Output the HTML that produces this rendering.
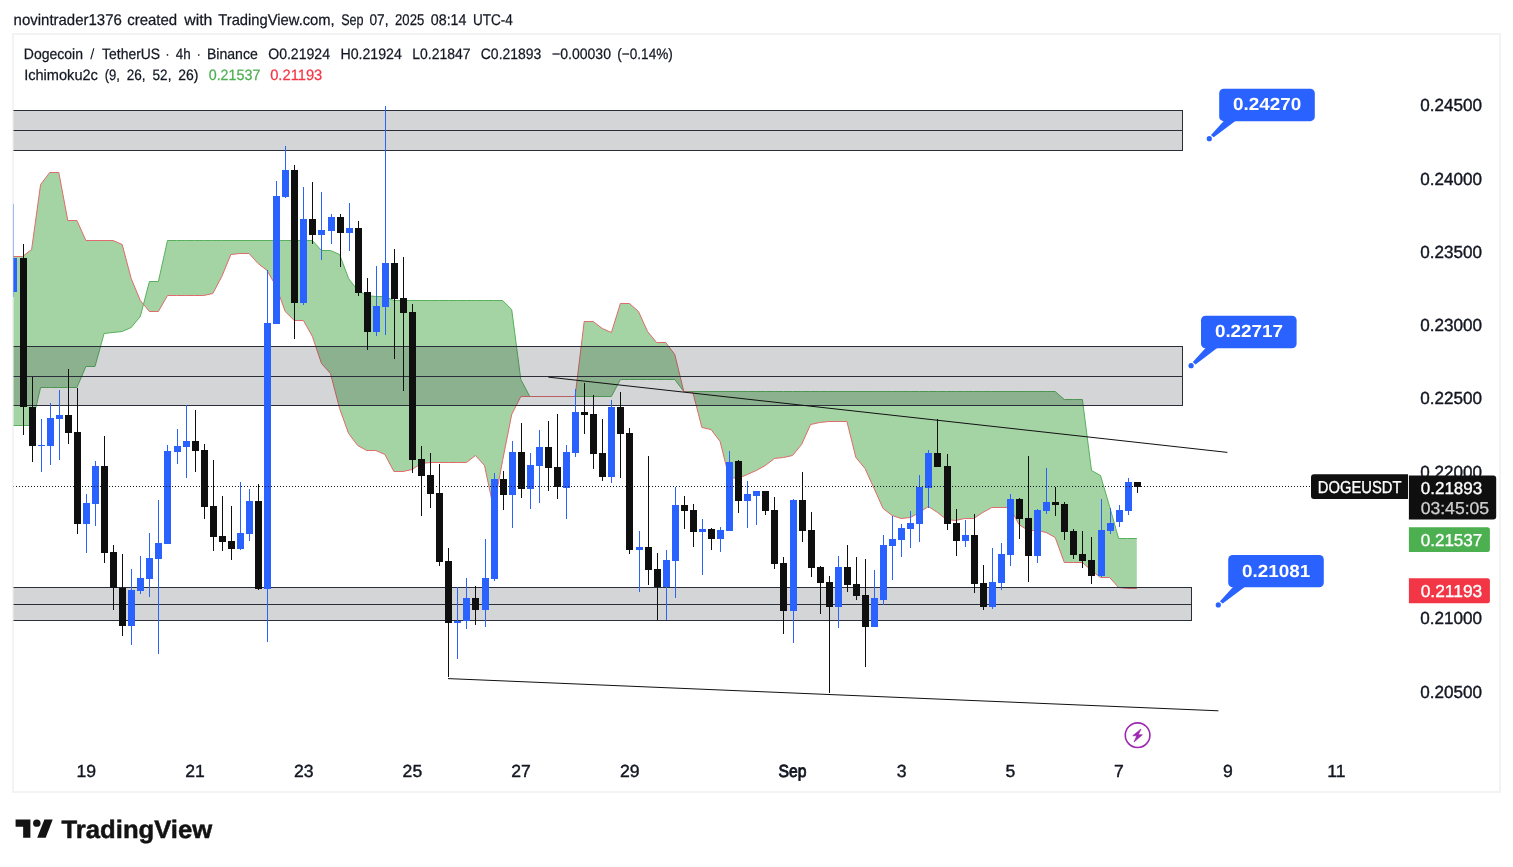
<!DOCTYPE html>
<html lang="en"><head><meta charset="utf-8"><title>DOGEUSDT chart</title>
<style>html,body{margin:0;padding:0;background:#fff;width:1513px;height:867px;overflow:hidden}</style></head>
<body>
<svg width="1513" height="867" viewBox="0 0 1513 867" text-rendering="geometricPrecision" style="position:absolute;left:0;top:0">
<rect x="0" y="0" width="1513" height="867" fill="#ffffff"/>
<defs><clipPath id="cp"><rect x="13.6" y="35" width="1485.4" height="756"/></clipPath></defs>
<rect x="13" y="34" width="1487" height="758" fill="none" stroke="#f3f3f4" stroke-width="2"/>
<g clip-path="url(#cp)">
<path d="M12.5,425.5 L13.5,425.5 L22.5,425.5 L31.6,425.5 L40.6,387.5 L49.7,387.5 L58.8,387.5 L67.8,387.5 L76.9,387.5 L85.9,366.5 L95.0,366.5 L104.1,333.5 L113.1,332.5 L122.2,331.5 L131.2,327.5 L140.3,316.5 L149.4,281.5 L158.4,281.5 L167.5,240.5 L176.5,240.5 L185.6,240.5 L194.6,240.5 L203.7,240.5 L212.8,240.5 L221.8,240.5 L230.9,240.5 L239.9,240.5 L249.0,240.5 L258.1,240.5 L267.1,240.5 L276.2,240.5 L285.2,240.5 L294.3,240.5 L303.4,240.5 L312.4,240.5 L321.5,250.5 L330.5,250.5 L339.6,254.5 L348.6,278.5 L357.7,290.5 L366.8,295.5 L375.8,296.5 L384.9,296.5 L393.9,300.5 L403.0,300.5 L412.1,300.5 L421.1,300.5 L430.2,300.5 L439.2,300.5 L448.3,300.5 L457.4,300.5 L466.4,300.5 L475.5,300.5 L484.5,300.5 L493.6,300.5 L502.6,300.5 L511.7,309.5 L520.8,379.5 L529.8,396.5 L538.9,396.5 L547.9,396.5 L557.0,396.5 L566.1,396.5 L575.1,396.5 L584.2,396.5 L593.2,396.5 L602.3,396.5 L611.4,396.5 L620.4,379.5 L629.5,379.5 L638.5,379.5 L647.6,379.5 L656.6,379.5 L665.7,379.5 L674.8,379.5 L683.8,391.5 L692.9,391.5 L701.9,391.5 L711.0,391.5 L720.1,391.5 L729.1,391.5 L738.2,391.5 L747.2,391.5 L756.3,391.5 L765.4,391.5 L774.4,391.5 L783.5,391.5 L792.5,391.5 L801.6,391.5 L810.6,391.5 L819.7,391.5 L828.8,391.5 L837.8,391.5 L846.9,391.5 L855.9,391.5 L865.0,391.5 L874.1,391.5 L883.1,391.5 L892.2,391.5 L901.2,391.5 L910.3,391.5 L919.4,391.5 L928.4,391.5 L937.5,391.5 L946.5,391.5 L955.6,391.5 L964.6,391.5 L973.7,391.5 L982.8,391.5 L991.8,391.5 L1000.9,391.5 L1009.9,391.5 L1019.0,391.5 L1028.1,391.5 L1037.1,391.5 L1046.2,391.5 L1055.2,391.5 L1064.3,399.5 L1073.4,399.5 L1082.4,399.5 L1091.5,470.5 L1100.5,475.5 L1109.6,506.5 L1118.6,538.5 L1127.7,538.5 L1136.8,538.5 L1136.8,588.5 L1127.7,588.5 L1118.6,587.5 L1109.6,577.5 L1100.5,577.5 L1091.5,570.5 L1082.4,562.5 L1073.4,562.5 L1064.3,562.5 L1055.2,537.5 L1046.2,532.5 L1037.1,530.5 L1028.1,530.5 L1019.0,524.5 L1009.9,507.5 L1000.9,507.5 L991.8,507.5 L982.8,512.5 L973.7,518.5 L964.6,518.5 L955.6,520.5 L946.5,519.5 L937.5,512.5 L928.4,506.5 L919.4,512.5 L910.3,517.5 L901.2,518.5 L892.2,515.5 L883.1,508.5 L874.1,488.5 L865.0,468.5 L855.9,457.5 L846.9,421.5 L837.8,421.5 L828.8,421.5 L819.7,422.5 L810.6,424.5 L801.6,444.5 L792.5,455.5 L783.5,457.5 L774.4,458.5 L765.4,465.5 L756.3,470.5 L747.2,474.5 L738.2,478.5 L729.1,477.5 L720.1,441.5 L711.0,429.5 L701.9,427.5 L692.9,392.5 L683.8,391.5 L674.8,354.5 L665.7,342.5 L656.6,342.5 L647.6,331.5 L638.5,311.5 L629.5,303.5 L620.4,303.5 L611.4,332.5 L602.3,328.5 L593.2,321.5 L584.2,321.5 L575.1,396.5 L566.1,396.5 L557.0,396.5 L547.9,396.5 L538.9,396.5 L529.8,396.5 L520.8,396.5 L511.7,414.5 L502.6,460.5 L493.6,508.5 L484.5,465.5 L475.5,455.5 L466.4,462.5 L457.4,462.5 L448.3,462.5 L439.2,462.5 L430.2,462.5 L421.1,463.5 L412.1,469.5 L403.0,471.5 L393.9,471.5 L384.9,454.5 L375.8,450.5 L366.8,450.5 L357.7,445.5 L348.6,433.5 L339.6,408.5 L330.5,373.5 L321.5,363.5 L312.4,336.5 L303.4,320.5 L294.3,320.5 L285.2,311.5 L276.2,286.5 L267.1,270.5 L258.1,263.5 L249.0,253.5 L239.9,253.5 L230.9,254.5 L221.8,276.5 L212.8,293.5 L203.7,295.5 L194.6,295.5 L185.6,295.5 L176.5,295.5 L167.5,295.5 L158.4,311.5 L149.4,311.5 L140.3,300.5 L131.2,278.5 L122.2,244.5 L113.1,240.5 L104.1,240.5 L95.0,240.5 L85.9,240.5 L76.9,220.5 L67.8,220.5 L58.8,172.5 L49.7,172.5 L40.6,184.5 L31.6,249.5 L22.5,256.5 L13.5,256.5 L12.5,256.5 Z" fill="#a4d3a4" stroke="none"/>
<polyline points="12.5,425.5 13.5,425.5 22.5,425.5 31.6,425.5 40.6,387.5 49.7,387.5 58.8,387.5 67.8,387.5 76.9,387.5 85.9,366.5 95.0,366.5 104.1,333.5 113.1,332.5 122.2,331.5 131.2,327.5 140.3,316.5 149.4,281.5 158.4,281.5 167.5,240.5 176.5,240.5 185.6,240.5 194.6,240.5 203.7,240.5 212.8,240.5 221.8,240.5 230.9,240.5 239.9,240.5 249.0,240.5 258.1,240.5 267.1,240.5 276.2,240.5 285.2,240.5 294.3,240.5 303.4,240.5 312.4,240.5 321.5,250.5 330.5,250.5 339.6,254.5 348.6,278.5 357.7,290.5 366.8,295.5 375.8,296.5 384.9,296.5 393.9,300.5 403.0,300.5 412.1,300.5 421.1,300.5 430.2,300.5 439.2,300.5 448.3,300.5 457.4,300.5 466.4,300.5 475.5,300.5 484.5,300.5 493.6,300.5 502.6,300.5 511.7,309.5 520.8,379.5 529.8,396.5 538.9,396.5 547.9,396.5 557.0,396.5 566.1,396.5 575.1,396.5 584.2,396.5 593.2,396.5 602.3,396.5 611.4,396.5 620.4,379.5 629.5,379.5 638.5,379.5 647.6,379.5 656.6,379.5 665.7,379.5 674.8,379.5 683.8,391.5 692.9,391.5 701.9,391.5 711.0,391.5 720.1,391.5 729.1,391.5 738.2,391.5 747.2,391.5 756.3,391.5 765.4,391.5 774.4,391.5 783.5,391.5 792.5,391.5 801.6,391.5 810.6,391.5 819.7,391.5 828.8,391.5 837.8,391.5 846.9,391.5 855.9,391.5 865.0,391.5 874.1,391.5 883.1,391.5 892.2,391.5 901.2,391.5 910.3,391.5 919.4,391.5 928.4,391.5 937.5,391.5 946.5,391.5 955.6,391.5 964.6,391.5 973.7,391.5 982.8,391.5 991.8,391.5 1000.9,391.5 1009.9,391.5 1019.0,391.5 1028.1,391.5 1037.1,391.5 1046.2,391.5 1055.2,391.5 1064.3,399.5 1073.4,399.5 1082.4,399.5 1091.5,470.5 1100.5,475.5 1109.6,506.5 1118.6,538.5 1127.7,538.5 1136.8,538.5" fill="none" stroke="#58b05c" stroke-width="1" stroke-linejoin="round"/>
<polyline points="12.5,256.5 13.5,256.5 22.5,256.5 31.6,249.5 40.6,184.5 49.7,172.5 58.8,172.5 67.8,220.5 76.9,220.5 85.9,240.5 95.0,240.5 104.1,240.5 113.1,240.5 122.2,244.5 131.2,278.5 140.3,300.5 149.4,311.5 158.4,311.5 167.5,295.5 176.5,295.5 185.6,295.5 194.6,295.5 203.7,295.5 212.8,293.5 221.8,276.5 230.9,254.5 239.9,253.5 249.0,253.5 258.1,263.5 267.1,270.5 276.2,286.5 285.2,311.5 294.3,320.5 303.4,320.5 312.4,336.5 321.5,363.5 330.5,373.5 339.6,408.5 348.6,433.5 357.7,445.5 366.8,450.5 375.8,450.5 384.9,454.5 393.9,471.5 403.0,471.5 412.1,469.5 421.1,463.5 430.2,462.5 439.2,462.5 448.3,462.5 457.4,462.5 466.4,462.5 475.5,455.5 484.5,465.5 493.6,508.5 502.6,460.5 511.7,414.5 520.8,396.5 529.8,396.5 538.9,396.5 547.9,396.5 557.0,396.5 566.1,396.5 575.1,396.5 584.2,321.5 593.2,321.5 602.3,328.5 611.4,332.5 620.4,303.5 629.5,303.5 638.5,311.5 647.6,331.5 656.6,342.5 665.7,342.5 674.8,354.5 683.8,391.5 692.9,392.5 701.9,427.5 711.0,429.5 720.1,441.5 729.1,477.5 738.2,478.5 747.2,474.5 756.3,470.5 765.4,465.5 774.4,458.5 783.5,457.5 792.5,455.5 801.6,444.5 810.6,424.5 819.7,422.5 828.8,421.5 837.8,421.5 846.9,421.5 855.9,457.5 865.0,468.5 874.1,488.5 883.1,508.5 892.2,515.5 901.2,518.5 910.3,517.5 919.4,512.5 928.4,506.5 937.5,512.5 946.5,519.5 955.6,520.5 964.6,518.5 973.7,518.5 982.8,512.5 991.8,507.5 1000.9,507.5 1009.9,507.5 1019.0,524.5 1028.1,530.5 1037.1,530.5 1046.2,532.5 1055.2,537.5 1064.3,562.5 1073.4,562.5 1082.4,562.5 1091.5,570.5 1100.5,577.5 1109.6,577.5 1118.6,587.5 1127.7,588.5 1136.8,588.5" fill="none" stroke="#df6b6c" stroke-width="1" stroke-linejoin="round"/>
<rect x="12" y="110" width="1171" height="41" fill="rgba(42,46,57,0.2)"/>
<rect x="12" y="110" width="1171" height="1" fill="#2a2e39" shape-rendering="crispEdges"/>
<rect x="12" y="130" width="1171" height="1" fill="#2a2e39" shape-rendering="crispEdges"/>
<rect x="12" y="150" width="1171" height="1" fill="#2a2e39" shape-rendering="crispEdges"/>
<rect x="1182" y="110" width="1" height="41" fill="#2a2e39" shape-rendering="crispEdges"/>
<rect x="12" y="346" width="1171" height="60" fill="rgba(42,46,57,0.2)"/>
<rect x="12" y="346" width="1171" height="1" fill="#2a2e39" shape-rendering="crispEdges"/>
<rect x="12" y="376" width="1171" height="1" fill="#2a2e39" shape-rendering="crispEdges"/>
<rect x="12" y="405" width="1171" height="1" fill="#2a2e39" shape-rendering="crispEdges"/>
<rect x="1182" y="346" width="1" height="60" fill="#2a2e39" shape-rendering="crispEdges"/>
<rect x="12" y="587" width="1180" height="34" fill="rgba(42,46,57,0.2)"/>
<rect x="12" y="587" width="1180" height="1" fill="#2a2e39" shape-rendering="crispEdges"/>
<rect x="12" y="604" width="1180" height="1" fill="#2a2e39" shape-rendering="crispEdges"/>
<rect x="12" y="620" width="1180" height="1" fill="#2a2e39" shape-rendering="crispEdges"/>
<rect x="1191" y="587" width="1" height="34" fill="#2a2e39" shape-rendering="crispEdges"/>
<line x1="548.3" y1="377.1" x2="1227.4" y2="452.4" stroke="#111" stroke-width="1"/>
<line x1="448.0" y1="678.6" x2="1218.4" y2="710.8" stroke="#111" stroke-width="1"/>
<g shape-rendering="crispEdges">
<rect x="13" y="204" width="1" height="93" fill="#2962ff"/>
<rect x="10" y="258" width="7" height="34" fill="#2962ff"/>
<rect x="23" y="244" width="1" height="191" fill="#0f0f0f"/>
<rect x="20" y="258" width="7" height="149" fill="#0f0f0f"/>
<rect x="32" y="377" width="1" height="85" fill="#0f0f0f"/>
<rect x="29" y="407" width="7" height="39" fill="#0f0f0f"/>
<rect x="41" y="419" width="1" height="53" fill="#2962ff"/>
<rect x="38" y="445" width="7" height="1" fill="#2962ff"/>
<rect x="50" y="403" width="1" height="62" fill="#2962ff"/>
<rect x="47" y="418" width="7" height="28" fill="#2962ff"/>
<rect x="59" y="390" width="1" height="70" fill="#2962ff"/>
<rect x="56" y="415" width="7" height="4" fill="#2962ff"/>
<rect x="68" y="369" width="1" height="75" fill="#0f0f0f"/>
<rect x="65" y="415" width="7" height="18" fill="#0f0f0f"/>
<rect x="77" y="388" width="1" height="146" fill="#0f0f0f"/>
<rect x="74" y="432" width="7" height="92" fill="#0f0f0f"/>
<rect x="86" y="494" width="1" height="59" fill="#2962ff"/>
<rect x="83" y="503" width="7" height="21" fill="#2962ff"/>
<rect x="95" y="461" width="1" height="65" fill="#2962ff"/>
<rect x="92" y="466" width="7" height="38" fill="#2962ff"/>
<rect x="104" y="436" width="1" height="127" fill="#0f0f0f"/>
<rect x="101" y="466" width="7" height="87" fill="#0f0f0f"/>
<rect x="113" y="545" width="1" height="65" fill="#0f0f0f"/>
<rect x="110" y="552" width="7" height="36" fill="#0f0f0f"/>
<rect x="122" y="554" width="1" height="82" fill="#0f0f0f"/>
<rect x="119" y="588" width="7" height="38" fill="#0f0f0f"/>
<rect x="131" y="569" width="1" height="76" fill="#2962ff"/>
<rect x="128" y="590" width="7" height="36" fill="#2962ff"/>
<rect x="140" y="556" width="1" height="38" fill="#2962ff"/>
<rect x="137" y="578" width="7" height="13" fill="#2962ff"/>
<rect x="149" y="533" width="1" height="64" fill="#2962ff"/>
<rect x="146" y="558" width="7" height="21" fill="#2962ff"/>
<rect x="158" y="500" width="1" height="154" fill="#2962ff"/>
<rect x="155" y="543" width="7" height="16" fill="#2962ff"/>
<rect x="167" y="445" width="1" height="99" fill="#2962ff"/>
<rect x="164" y="451" width="7" height="93" fill="#2962ff"/>
<rect x="177" y="429" width="1" height="35" fill="#2962ff"/>
<rect x="174" y="446" width="7" height="6" fill="#2962ff"/>
<rect x="186" y="405" width="1" height="73" fill="#2962ff"/>
<rect x="183" y="441" width="7" height="6" fill="#2962ff"/>
<rect x="195" y="410" width="1" height="62" fill="#0f0f0f"/>
<rect x="192" y="441" width="7" height="10" fill="#0f0f0f"/>
<rect x="204" y="444" width="1" height="75" fill="#0f0f0f"/>
<rect x="201" y="450" width="7" height="57" fill="#0f0f0f"/>
<rect x="213" y="460" width="1" height="91" fill="#0f0f0f"/>
<rect x="210" y="506" width="7" height="31" fill="#0f0f0f"/>
<rect x="222" y="496" width="1" height="55" fill="#0f0f0f"/>
<rect x="219" y="536" width="7" height="6" fill="#0f0f0f"/>
<rect x="231" y="506" width="1" height="54" fill="#0f0f0f"/>
<rect x="228" y="541" width="7" height="8" fill="#0f0f0f"/>
<rect x="240" y="482" width="1" height="68" fill="#2962ff"/>
<rect x="237" y="533" width="7" height="16" fill="#2962ff"/>
<rect x="249" y="489" width="1" height="52" fill="#2962ff"/>
<rect x="246" y="501" width="7" height="33" fill="#2962ff"/>
<rect x="258" y="484" width="1" height="106" fill="#0f0f0f"/>
<rect x="255" y="501" width="7" height="88" fill="#0f0f0f"/>
<rect x="267" y="270" width="1" height="372" fill="#2962ff"/>
<rect x="264" y="323" width="7" height="266" fill="#2962ff"/>
<rect x="276" y="181" width="1" height="143" fill="#2962ff"/>
<rect x="273" y="196" width="7" height="128" fill="#2962ff"/>
<rect x="285" y="146" width="1" height="52" fill="#2962ff"/>
<rect x="282" y="170" width="7" height="27" fill="#2962ff"/>
<rect x="294" y="165" width="1" height="174" fill="#0f0f0f"/>
<rect x="291" y="170" width="7" height="133" fill="#0f0f0f"/>
<rect x="303" y="187" width="1" height="118" fill="#2962ff"/>
<rect x="300" y="219" width="7" height="84" fill="#2962ff"/>
<rect x="312" y="182" width="1" height="62" fill="#0f0f0f"/>
<rect x="309" y="219" width="7" height="16" fill="#0f0f0f"/>
<rect x="321" y="192" width="1" height="68" fill="#2962ff"/>
<rect x="318" y="230" width="7" height="5" fill="#2962ff"/>
<rect x="331" y="214" width="1" height="30" fill="#2962ff"/>
<rect x="328" y="217" width="7" height="14" fill="#2962ff"/>
<rect x="340" y="214" width="1" height="53" fill="#0f0f0f"/>
<rect x="337" y="217" width="7" height="16" fill="#0f0f0f"/>
<rect x="349" y="203" width="1" height="48" fill="#2962ff"/>
<rect x="346" y="228" width="7" height="5" fill="#2962ff"/>
<rect x="358" y="221" width="1" height="75" fill="#0f0f0f"/>
<rect x="355" y="228" width="7" height="65" fill="#0f0f0f"/>
<rect x="367" y="278" width="1" height="72" fill="#0f0f0f"/>
<rect x="364" y="292" width="7" height="40" fill="#0f0f0f"/>
<rect x="376" y="266" width="1" height="70" fill="#2962ff"/>
<rect x="373" y="306" width="7" height="26" fill="#2962ff"/>
<rect x="385" y="106" width="1" height="229" fill="#2962ff"/>
<rect x="382" y="263" width="7" height="44" fill="#2962ff"/>
<rect x="394" y="249" width="1" height="110" fill="#0f0f0f"/>
<rect x="391" y="263" width="7" height="36" fill="#0f0f0f"/>
<rect x="403" y="257" width="1" height="134" fill="#0f0f0f"/>
<rect x="400" y="298" width="7" height="15" fill="#0f0f0f"/>
<rect x="412" y="304" width="1" height="169" fill="#0f0f0f"/>
<rect x="409" y="312" width="7" height="148" fill="#0f0f0f"/>
<rect x="421" y="446" width="1" height="70" fill="#0f0f0f"/>
<rect x="418" y="459" width="7" height="17" fill="#0f0f0f"/>
<rect x="430" y="453" width="1" height="55" fill="#0f0f0f"/>
<rect x="427" y="475" width="7" height="19" fill="#0f0f0f"/>
<rect x="439" y="464" width="1" height="102" fill="#0f0f0f"/>
<rect x="436" y="493" width="7" height="69" fill="#0f0f0f"/>
<rect x="448" y="548" width="1" height="129" fill="#0f0f0f"/>
<rect x="445" y="561" width="7" height="62" fill="#0f0f0f"/>
<rect x="457" y="587" width="1" height="72" fill="#2962ff"/>
<rect x="454" y="621" width="7" height="2" fill="#2962ff"/>
<rect x="466" y="578" width="1" height="51" fill="#2962ff"/>
<rect x="463" y="598" width="7" height="23" fill="#2962ff"/>
<rect x="475" y="586" width="1" height="39" fill="#0f0f0f"/>
<rect x="472" y="598" width="7" height="12" fill="#0f0f0f"/>
<rect x="485" y="539" width="1" height="88" fill="#2962ff"/>
<rect x="482" y="578" width="7" height="32" fill="#2962ff"/>
<rect x="494" y="473" width="1" height="108" fill="#2962ff"/>
<rect x="491" y="479" width="7" height="100" fill="#2962ff"/>
<rect x="503" y="471" width="1" height="39" fill="#0f0f0f"/>
<rect x="500" y="479" width="7" height="16" fill="#0f0f0f"/>
<rect x="512" y="441" width="1" height="87" fill="#2962ff"/>
<rect x="509" y="452" width="7" height="43" fill="#2962ff"/>
<rect x="521" y="423" width="1" height="75" fill="#0f0f0f"/>
<rect x="518" y="452" width="7" height="37" fill="#0f0f0f"/>
<rect x="530" y="453" width="1" height="56" fill="#2962ff"/>
<rect x="527" y="465" width="7" height="24" fill="#2962ff"/>
<rect x="539" y="430" width="1" height="73" fill="#2962ff"/>
<rect x="536" y="447" width="7" height="19" fill="#2962ff"/>
<rect x="548" y="421" width="1" height="70" fill="#0f0f0f"/>
<rect x="545" y="447" width="7" height="21" fill="#0f0f0f"/>
<rect x="557" y="414" width="1" height="85" fill="#0f0f0f"/>
<rect x="554" y="467" width="7" height="20" fill="#0f0f0f"/>
<rect x="566" y="445" width="1" height="74" fill="#2962ff"/>
<rect x="563" y="452" width="7" height="36" fill="#2962ff"/>
<rect x="575" y="389" width="1" height="68" fill="#2962ff"/>
<rect x="572" y="412" width="7" height="41" fill="#2962ff"/>
<rect x="584" y="383" width="1" height="51" fill="#0f0f0f"/>
<rect x="581" y="412" width="7" height="3" fill="#0f0f0f"/>
<rect x="593" y="395" width="1" height="74" fill="#0f0f0f"/>
<rect x="590" y="414" width="7" height="40" fill="#0f0f0f"/>
<rect x="602" y="419" width="1" height="62" fill="#0f0f0f"/>
<rect x="599" y="453" width="7" height="24" fill="#0f0f0f"/>
<rect x="611" y="400" width="1" height="83" fill="#2962ff"/>
<rect x="608" y="407" width="7" height="70" fill="#2962ff"/>
<rect x="620" y="392" width="1" height="86" fill="#0f0f0f"/>
<rect x="617" y="407" width="7" height="27" fill="#0f0f0f"/>
<rect x="629" y="428" width="1" height="126" fill="#0f0f0f"/>
<rect x="626" y="433" width="7" height="117" fill="#0f0f0f"/>
<rect x="639" y="531" width="1" height="61" fill="#2962ff"/>
<rect x="636" y="547" width="7" height="3" fill="#2962ff"/>
<rect x="648" y="456" width="1" height="129" fill="#0f0f0f"/>
<rect x="645" y="547" width="7" height="23" fill="#0f0f0f"/>
<rect x="657" y="553" width="1" height="67" fill="#0f0f0f"/>
<rect x="654" y="569" width="7" height="18" fill="#0f0f0f"/>
<rect x="666" y="550" width="1" height="70" fill="#2962ff"/>
<rect x="663" y="560" width="7" height="27" fill="#2962ff"/>
<rect x="675" y="487" width="1" height="111" fill="#2962ff"/>
<rect x="672" y="505" width="7" height="56" fill="#2962ff"/>
<rect x="684" y="496" width="1" height="33" fill="#0f0f0f"/>
<rect x="681" y="505" width="7" height="6" fill="#0f0f0f"/>
<rect x="693" y="504" width="1" height="43" fill="#0f0f0f"/>
<rect x="690" y="510" width="7" height="22" fill="#0f0f0f"/>
<rect x="702" y="519" width="1" height="56" fill="#2962ff"/>
<rect x="699" y="529" width="7" height="3" fill="#2962ff"/>
<rect x="711" y="528" width="1" height="22" fill="#0f0f0f"/>
<rect x="708" y="529" width="7" height="10" fill="#0f0f0f"/>
<rect x="720" y="527" width="1" height="25" fill="#2962ff"/>
<rect x="717" y="530" width="7" height="9" fill="#2962ff"/>
<rect x="729" y="451" width="1" height="80" fill="#2962ff"/>
<rect x="726" y="462" width="7" height="69" fill="#2962ff"/>
<rect x="738" y="460" width="1" height="53" fill="#0f0f0f"/>
<rect x="735" y="461" width="7" height="40" fill="#0f0f0f"/>
<rect x="747" y="481" width="1" height="47" fill="#2962ff"/>
<rect x="744" y="494" width="7" height="7" fill="#2962ff"/>
<rect x="756" y="491" width="1" height="34" fill="#2962ff"/>
<rect x="753" y="491" width="7" height="5" fill="#2962ff"/>
<rect x="765" y="491" width="1" height="24" fill="#0f0f0f"/>
<rect x="762" y="491" width="7" height="20" fill="#0f0f0f"/>
<rect x="774" y="497" width="1" height="72" fill="#0f0f0f"/>
<rect x="771" y="510" width="7" height="54" fill="#0f0f0f"/>
<rect x="783" y="557" width="1" height="77" fill="#0f0f0f"/>
<rect x="780" y="563" width="7" height="48" fill="#0f0f0f"/>
<rect x="793" y="499" width="1" height="144" fill="#2962ff"/>
<rect x="790" y="500" width="7" height="111" fill="#2962ff"/>
<rect x="802" y="472" width="1" height="70" fill="#0f0f0f"/>
<rect x="799" y="500" width="7" height="31" fill="#0f0f0f"/>
<rect x="811" y="512" width="1" height="65" fill="#0f0f0f"/>
<rect x="808" y="530" width="7" height="38" fill="#0f0f0f"/>
<rect x="820" y="566" width="1" height="48" fill="#0f0f0f"/>
<rect x="817" y="567" width="7" height="16" fill="#0f0f0f"/>
<rect x="829" y="576" width="1" height="117" fill="#0f0f0f"/>
<rect x="826" y="582" width="7" height="25" fill="#0f0f0f"/>
<rect x="838" y="556" width="1" height="72" fill="#2962ff"/>
<rect x="835" y="567" width="7" height="40" fill="#2962ff"/>
<rect x="847" y="545" width="1" height="47" fill="#0f0f0f"/>
<rect x="844" y="567" width="7" height="18" fill="#0f0f0f"/>
<rect x="856" y="557" width="1" height="43" fill="#0f0f0f"/>
<rect x="853" y="584" width="7" height="12" fill="#0f0f0f"/>
<rect x="865" y="559" width="1" height="108" fill="#0f0f0f"/>
<rect x="862" y="595" width="7" height="32" fill="#0f0f0f"/>
<rect x="874" y="570" width="1" height="57" fill="#2962ff"/>
<rect x="871" y="598" width="7" height="29" fill="#2962ff"/>
<rect x="883" y="535" width="1" height="70" fill="#2962ff"/>
<rect x="880" y="545" width="7" height="55" fill="#2962ff"/>
<rect x="892" y="516" width="1" height="64" fill="#2962ff"/>
<rect x="889" y="539" width="7" height="7" fill="#2962ff"/>
<rect x="901" y="524" width="1" height="33" fill="#2962ff"/>
<rect x="898" y="528" width="7" height="12" fill="#2962ff"/>
<rect x="910" y="511" width="1" height="37" fill="#2962ff"/>
<rect x="907" y="523" width="7" height="6" fill="#2962ff"/>
<rect x="919" y="475" width="1" height="67" fill="#2962ff"/>
<rect x="916" y="487" width="7" height="37" fill="#2962ff"/>
<rect x="928" y="450" width="1" height="58" fill="#2962ff"/>
<rect x="925" y="453" width="7" height="35" fill="#2962ff"/>
<rect x="937" y="419" width="1" height="48" fill="#0f0f0f"/>
<rect x="934" y="453" width="7" height="14" fill="#0f0f0f"/>
<rect x="947" y="454" width="1" height="76" fill="#0f0f0f"/>
<rect x="944" y="466" width="7" height="58" fill="#0f0f0f"/>
<rect x="956" y="509" width="1" height="47" fill="#0f0f0f"/>
<rect x="953" y="523" width="7" height="18" fill="#0f0f0f"/>
<rect x="965" y="520" width="1" height="27" fill="#2962ff"/>
<rect x="962" y="535" width="7" height="6" fill="#2962ff"/>
<rect x="974" y="514" width="1" height="79" fill="#0f0f0f"/>
<rect x="971" y="535" width="7" height="49" fill="#0f0f0f"/>
<rect x="983" y="565" width="1" height="45" fill="#0f0f0f"/>
<rect x="980" y="583" width="7" height="24" fill="#0f0f0f"/>
<rect x="992" y="548" width="1" height="61" fill="#2962ff"/>
<rect x="989" y="582" width="7" height="25" fill="#2962ff"/>
<rect x="1001" y="543" width="1" height="47" fill="#2962ff"/>
<rect x="998" y="554" width="7" height="29" fill="#2962ff"/>
<rect x="1010" y="494" width="1" height="72" fill="#2962ff"/>
<rect x="1007" y="499" width="7" height="56" fill="#2962ff"/>
<rect x="1019" y="498" width="1" height="41" fill="#0f0f0f"/>
<rect x="1016" y="499" width="7" height="20" fill="#0f0f0f"/>
<rect x="1028" y="456" width="1" height="126" fill="#0f0f0f"/>
<rect x="1025" y="518" width="7" height="38" fill="#0f0f0f"/>
<rect x="1037" y="509" width="1" height="54" fill="#2962ff"/>
<rect x="1034" y="510" width="7" height="46" fill="#2962ff"/>
<rect x="1046" y="468" width="1" height="46" fill="#2962ff"/>
<rect x="1043" y="502" width="7" height="9" fill="#2962ff"/>
<rect x="1055" y="487" width="1" height="29" fill="#0f0f0f"/>
<rect x="1052" y="502" width="7" height="3" fill="#0f0f0f"/>
<rect x="1064" y="502" width="1" height="38" fill="#0f0f0f"/>
<rect x="1061" y="504" width="7" height="28" fill="#0f0f0f"/>
<rect x="1073" y="529" width="1" height="30" fill="#0f0f0f"/>
<rect x="1070" y="531" width="7" height="24" fill="#0f0f0f"/>
<rect x="1082" y="531" width="1" height="37" fill="#0f0f0f"/>
<rect x="1079" y="554" width="7" height="7" fill="#0f0f0f"/>
<rect x="1091" y="537" width="1" height="47" fill="#0f0f0f"/>
<rect x="1088" y="560" width="7" height="16" fill="#0f0f0f"/>
<rect x="1101" y="499" width="1" height="78" fill="#2962ff"/>
<rect x="1098" y="530" width="7" height="46" fill="#2962ff"/>
<rect x="1110" y="508" width="1" height="26" fill="#2962ff"/>
<rect x="1107" y="523" width="7" height="8" fill="#2962ff"/>
<rect x="1119" y="505" width="1" height="22" fill="#2962ff"/>
<rect x="1116" y="510" width="7" height="12" fill="#2962ff"/>
<rect x="1128" y="478" width="1" height="37" fill="#2962ff"/>
<rect x="1125" y="482" width="7" height="29" fill="#2962ff"/>
<rect x="1137" y="482" width="1" height="11" fill="#0f0f0f"/>
<rect x="1134" y="482" width="7" height="5" fill="#0f0f0f"/>
</g>
<line x1="13" y1="486.5" x2="1311" y2="486.5" stroke="#131722" stroke-width="1" stroke-dasharray="1 2" shape-rendering="crispEdges"/>
<circle cx="1137.6" cy="735.2" r="12.3" fill="#fff" stroke="#9c27b0" stroke-width="1.6"/>
<polygon points="1141.0,729.0 1132.8,735.7 1136.8,735.8 1134.0,742.0 1142.4,734.8 1138.3,734.7" fill="#9c27b0" stroke="#9c27b0" stroke-width="0.7" stroke-linejoin="round"/>
<polygon points="1210.8,135.2 1224.0,120.7 1235.7,120.7 1213.7,137.3" fill="#2962ff"/>
<rect x="1219.2" y="88.7" width="95.6" height="32.45" rx="4.5" fill="#2962ff"/>
<circle cx="1209.3" cy="138.65" r="3.6" fill="#fff"/>
<circle cx="1209.3" cy="138.65" r="2.6" fill="#2962ff"/>
<text x="1233.1" y="110.3" font-family="'Liberation Sans', sans-serif" font-size="17.6" font-weight="bold" fill="#fff" textLength="68.2" lengthAdjust="spacingAndGlyphs">0.24270</text>
<polygon points="1192.6,362.2 1205.8,347.7 1217.5,347.7 1195.5,364.4" fill="#2962ff"/>
<rect x="1201.0" y="315.8" width="95.6" height="32.45" rx="4.5" fill="#2962ff"/>
<circle cx="1191.1" cy="365.7" r="3.6" fill="#fff"/>
<circle cx="1191.1" cy="365.7" r="2.6" fill="#2962ff"/>
<text x="1214.9" y="337.4" font-family="'Liberation Sans', sans-serif" font-size="17.6" font-weight="bold" fill="#fff" textLength="68.2" lengthAdjust="spacingAndGlyphs">0.22717</text>
<polygon points="1219.8,601.4 1233.0,586.9 1244.7,586.9 1222.7,603.6" fill="#2962ff"/>
<rect x="1228.2" y="554.9" width="95.6" height="32.45" rx="4.5" fill="#2962ff"/>
<circle cx="1218.3" cy="604.9" r="3.6" fill="#fff"/>
<circle cx="1218.3" cy="604.9" r="2.6" fill="#2962ff"/>
<text x="1242.1" y="576.5" font-family="'Liberation Sans', sans-serif" font-size="17.6" font-weight="bold" fill="#fff" textLength="68.2" lengthAdjust="spacingAndGlyphs">0.21081</text>
</g>
<text x="1420.3" y="111.3" font-family="'Liberation Sans', sans-serif" font-size="17.6" fill="#131722" stroke="#131722" stroke-width="0.4" textLength="61.8" lengthAdjust="spacingAndGlyphs">0.24500</text>
<text x="1420.3" y="184.6" font-family="'Liberation Sans', sans-serif" font-size="17.6" fill="#131722" stroke="#131722" stroke-width="0.4" textLength="61.8" lengthAdjust="spacingAndGlyphs">0.24000</text>
<text x="1420.3" y="257.9" font-family="'Liberation Sans', sans-serif" font-size="17.6" fill="#131722" stroke="#131722" stroke-width="0.4" textLength="61.8" lengthAdjust="spacingAndGlyphs">0.23500</text>
<text x="1420.3" y="331.1" font-family="'Liberation Sans', sans-serif" font-size="17.6" fill="#131722" stroke="#131722" stroke-width="0.4" textLength="61.8" lengthAdjust="spacingAndGlyphs">0.23000</text>
<text x="1420.3" y="404.4" font-family="'Liberation Sans', sans-serif" font-size="17.6" fill="#131722" stroke="#131722" stroke-width="0.4" textLength="61.8" lengthAdjust="spacingAndGlyphs">0.22500</text>
<text x="1420.3" y="477.7" font-family="'Liberation Sans', sans-serif" font-size="17.6" fill="#131722" stroke="#131722" stroke-width="0.4" textLength="61.8" lengthAdjust="spacingAndGlyphs">0.22000</text>
<text x="1420.3" y="551.0" font-family="'Liberation Sans', sans-serif" font-size="17.6" fill="#131722" stroke="#131722" stroke-width="0.4" textLength="61.8" lengthAdjust="spacingAndGlyphs">0.21500</text>
<text x="1420.3" y="624.3" font-family="'Liberation Sans', sans-serif" font-size="17.6" fill="#131722" stroke="#131722" stroke-width="0.4" textLength="61.8" lengthAdjust="spacingAndGlyphs">0.21000</text>
<text x="1420.3" y="697.5" font-family="'Liberation Sans', sans-serif" font-size="17.6" fill="#131722" stroke="#131722" stroke-width="0.4" textLength="61.8" lengthAdjust="spacingAndGlyphs">0.20500</text>
<path d="M1314,474.3 H1408 V498.9 H1314 a3,3 0 0 1 -3,-3 V477.3 a3,3 0 0 1 3,-3 Z" fill="#0f0f0f"/>
<text x="1317.8" y="493.1" font-family="'Liberation Sans', sans-serif" font-size="17.3" fill="#fff" stroke="#fff" stroke-width="0.35" textLength="83.6" lengthAdjust="spacingAndGlyphs">DOGEUSDT</text>
<path d="M1408.9,475.4 H1493.2 a3,3 0 0 1 3,3 V516.6 a3,3 0 0 1 -3,3 H1408.9 Z" fill="#0f0f0f"/>
<text x="1420.7" y="493.9" font-family="'Liberation Sans', sans-serif" font-size="17.3" fill="#fff" stroke="#fff" stroke-width="0.35" textLength="61.6" lengthAdjust="spacingAndGlyphs">0.21893</text>
<text x="1420.7" y="514.2" font-family="'Liberation Sans', sans-serif" font-size="17.3" fill="#cfcfcf" stroke="#cfcfcf" stroke-width="0.3" textLength="68.4" lengthAdjust="spacingAndGlyphs">03:45:05</text>
<path d="M1408.9,527.2 H1487.4 a2.5,2.5 0 0 1 2.5,2.5 V549.5 a2.5,2.5 0 0 1 -2.5,2.5 H1408.9 Z" fill="#4caf50"/>
<text x="1420.7" y="546.0" font-family="'Liberation Sans', sans-serif" font-size="17.3" fill="#fff" stroke="#fff" stroke-width="0.35" textLength="61.6" lengthAdjust="spacingAndGlyphs">0.21537</text>
<path d="M1408.9,578.2 H1487.4 a2.5,2.5 0 0 1 2.5,2.5 V600.7 a2.5,2.5 0 0 1 -2.5,2.5 H1408.9 Z" fill="#f23645"/>
<text x="1420.7" y="597.1" font-family="'Liberation Sans', sans-serif" font-size="17.3" fill="#fff" stroke="#fff" stroke-width="0.35" textLength="61.6" lengthAdjust="spacingAndGlyphs">0.21193</text>
<text x="86.3" y="777.3" font-family="'Liberation Sans', sans-serif" font-size="17.6" fill="#131722" stroke="#131722" stroke-width="0.4" text-anchor="middle">19</text>
<text x="195.0" y="777.3" font-family="'Liberation Sans', sans-serif" font-size="17.6" fill="#131722" stroke="#131722" stroke-width="0.4" text-anchor="middle">21</text>
<text x="303.7" y="777.3" font-family="'Liberation Sans', sans-serif" font-size="17.6" fill="#131722" stroke="#131722" stroke-width="0.4" text-anchor="middle">23</text>
<text x="412.4" y="777.3" font-family="'Liberation Sans', sans-serif" font-size="17.6" fill="#131722" stroke="#131722" stroke-width="0.4" text-anchor="middle">25</text>
<text x="521.1" y="777.3" font-family="'Liberation Sans', sans-serif" font-size="17.6" fill="#131722" stroke="#131722" stroke-width="0.4" text-anchor="middle">27</text>
<text x="629.8" y="777.3" font-family="'Liberation Sans', sans-serif" font-size="17.6" fill="#131722" stroke="#131722" stroke-width="0.4" text-anchor="middle">29</text>
<text x="901.6" y="777.3" font-family="'Liberation Sans', sans-serif" font-size="17.6" fill="#131722" stroke="#131722" stroke-width="0.4" text-anchor="middle">3</text>
<text x="1010.3" y="777.3" font-family="'Liberation Sans', sans-serif" font-size="17.6" fill="#131722" stroke="#131722" stroke-width="0.4" text-anchor="middle">5</text>
<text x="1119.0" y="777.3" font-family="'Liberation Sans', sans-serif" font-size="17.6" fill="#131722" stroke="#131722" stroke-width="0.4" text-anchor="middle">7</text>
<text x="1227.8" y="777.3" font-family="'Liberation Sans', sans-serif" font-size="17.6" fill="#131722" stroke="#131722" stroke-width="0.4" text-anchor="middle">9</text>
<text x="1336.5" y="777.3" font-family="'Liberation Sans', sans-serif" font-size="17.6" fill="#131722" stroke="#131722" stroke-width="0.4" text-anchor="middle">11</text>
<text x="778.5" y="777.3" font-family="'Liberation Sans', sans-serif" font-size="17.6" fill="#131722" stroke="#131722" stroke-width="0.85" textLength="28.0" lengthAdjust="spacingAndGlyphs">Sep</text>
<text x="13.6" y="24.8" font-family="'Liberation Sans', sans-serif" font-size="15.5" fill="#131722" stroke="#131722" stroke-width="0.25" textLength="108.2" lengthAdjust="spacingAndGlyphs">novintrader1376</text>
<text x="127.2" y="24.8" font-family="'Liberation Sans', sans-serif" font-size="15.5" fill="#131722" stroke="#131722" stroke-width="0.25" textLength="49.9" lengthAdjust="spacingAndGlyphs">created</text>
<text x="184.2" y="24.8" font-family="'Liberation Sans', sans-serif" font-size="15.5" fill="#131722" stroke="#131722" stroke-width="0.25" textLength="28.2" lengthAdjust="spacingAndGlyphs">with</text>
<text x="218.3" y="24.8" font-family="'Liberation Sans', sans-serif" font-size="15.5" fill="#131722" stroke="#131722" stroke-width="0.25" textLength="116.4" lengthAdjust="spacingAndGlyphs">TradingView.com,</text>
<text x="341.2" y="24.8" font-family="'Liberation Sans', sans-serif" font-size="15.5" fill="#131722" stroke="#131722" stroke-width="0.25" textLength="22.4" lengthAdjust="spacingAndGlyphs">Sep</text>
<text x="369.5" y="24.8" font-family="'Liberation Sans', sans-serif" font-size="15.5" fill="#131722" stroke="#131722" stroke-width="0.25" textLength="19.0" lengthAdjust="spacingAndGlyphs">07,</text>
<text x="395.1" y="24.8" font-family="'Liberation Sans', sans-serif" font-size="15.5" fill="#131722" stroke="#131722" stroke-width="0.25" textLength="29.1" lengthAdjust="spacingAndGlyphs">2025</text>
<text x="430.8" y="24.8" font-family="'Liberation Sans', sans-serif" font-size="15.5" fill="#131722" stroke="#131722" stroke-width="0.25" textLength="35.7" lengthAdjust="spacingAndGlyphs">08:14</text>
<text x="473.0" y="24.8" font-family="'Liberation Sans', sans-serif" font-size="15.5" fill="#131722" stroke="#131722" stroke-width="0.25" textLength="39.8" lengthAdjust="spacingAndGlyphs">UTC-4</text>
<text x="23.8" y="58.8" font-family="'Liberation Sans', sans-serif" font-size="15" fill="#131722" stroke="#131722" stroke-width="0.25" textLength="59.2" lengthAdjust="spacingAndGlyphs">Dogecoin</text>
<text x="92.4" y="58.8" font-family="'Liberation Sans', sans-serif" font-size="15" fill="#131722" text-anchor="middle">/</text>
<text x="102.1" y="58.8" font-family="'Liberation Sans', sans-serif" font-size="15" fill="#131722" stroke="#131722" stroke-width="0.25" textLength="58.0" lengthAdjust="spacingAndGlyphs">TetherUS</text>
<text x="167.6" y="58.8" font-family="'Liberation Sans', sans-serif" font-size="15" fill="#131722" text-anchor="middle">·</text>
<text x="175.8" y="58.8" font-family="'Liberation Sans', sans-serif" font-size="15" fill="#131722" stroke="#131722" stroke-width="0.25" textLength="14.9" lengthAdjust="spacingAndGlyphs">4h</text>
<text x="198.8" y="58.8" font-family="'Liberation Sans', sans-serif" font-size="15" fill="#131722" text-anchor="middle">·</text>
<text x="206.9" y="58.8" font-family="'Liberation Sans', sans-serif" font-size="15" fill="#131722" stroke="#131722" stroke-width="0.25" textLength="50.9" lengthAdjust="spacingAndGlyphs">Binance</text>
<text x="268.2" y="58.8" font-family="'Liberation Sans', sans-serif" font-size="15" fill="#131722" stroke="#131722" stroke-width="0.25" textLength="61.8" lengthAdjust="spacingAndGlyphs">O0.21924</text>
<text x="340.4" y="58.8" font-family="'Liberation Sans', sans-serif" font-size="15" fill="#131722" stroke="#131722" stroke-width="0.25" textLength="61.5" lengthAdjust="spacingAndGlyphs">H0.21924</text>
<text x="412.3" y="58.8" font-family="'Liberation Sans', sans-serif" font-size="15" fill="#131722" stroke="#131722" stroke-width="0.25" textLength="58.3" lengthAdjust="spacingAndGlyphs">L0.21847</text>
<text x="480.8" y="58.8" font-family="'Liberation Sans', sans-serif" font-size="15" fill="#131722" stroke="#131722" stroke-width="0.25" textLength="60.5" lengthAdjust="spacingAndGlyphs">C0.21893</text>
<text x="552.0" y="58.8" font-family="'Liberation Sans', sans-serif" font-size="15" fill="#131722" stroke="#131722" stroke-width="0.25" textLength="59.0" lengthAdjust="spacingAndGlyphs">−0.00030</text>
<text x="617.3" y="58.8" font-family="'Liberation Sans', sans-serif" font-size="15" fill="#131722" stroke="#131722" stroke-width="0.25" textLength="55.5" lengthAdjust="spacingAndGlyphs">(−0.14%)</text>
<text x="24.2" y="79.6" font-family="'Liberation Sans', sans-serif" font-size="15" fill="#131722" stroke="#131722" stroke-width="0.25" textLength="73.7" lengthAdjust="spacingAndGlyphs">Ichimoku2c</text>
<text x="104.7" y="79.6" font-family="'Liberation Sans', sans-serif" font-size="15" fill="#131722" stroke="#131722" stroke-width="0.25" textLength="15.2" lengthAdjust="spacingAndGlyphs">(9,</text>
<text x="126.7" y="79.6" font-family="'Liberation Sans', sans-serif" font-size="15" fill="#131722" stroke="#131722" stroke-width="0.25" textLength="18.8" lengthAdjust="spacingAndGlyphs">26,</text>
<text x="152.6" y="79.6" font-family="'Liberation Sans', sans-serif" font-size="15" fill="#131722" stroke="#131722" stroke-width="0.25" textLength="18.8" lengthAdjust="spacingAndGlyphs">52,</text>
<text x="178.2" y="79.6" font-family="'Liberation Sans', sans-serif" font-size="15" fill="#131722" stroke="#131722" stroke-width="0.25" textLength="20.2" lengthAdjust="spacingAndGlyphs">26)</text>
<text x="208.7" y="79.6" font-family="'Liberation Sans', sans-serif" font-size="15" fill="#4caf50" stroke="#4caf50" stroke-width="0.25" textLength="51.7" lengthAdjust="spacingAndGlyphs">0.21537</text>
<text x="270.2" y="79.6" font-family="'Liberation Sans', sans-serif" font-size="15" fill="#f23645" stroke="#f23645" stroke-width="0.25" textLength="52.1" lengthAdjust="spacingAndGlyphs">0.21193</text>
<g fill="#131313">
<polygon points="15.6,819.5 30.4,819.5 30.4,837.8 23.15,837.8 23.15,826.65 15.6,826.65"/>
<circle cx="36.8" cy="823.15" r="3.72"/>
<polygon points="44.4,819.5 52.7,819.5 45.7,837.8 37.2,837.8"/>
<text x="61.6" y="837.9" font-family="'Liberation Sans', sans-serif" font-size="25.2" font-weight="bold" stroke="#131313" stroke-width="0.5" textLength="150.6" lengthAdjust="spacingAndGlyphs">TradingView</text>
</g>
</svg>
</body></html>
